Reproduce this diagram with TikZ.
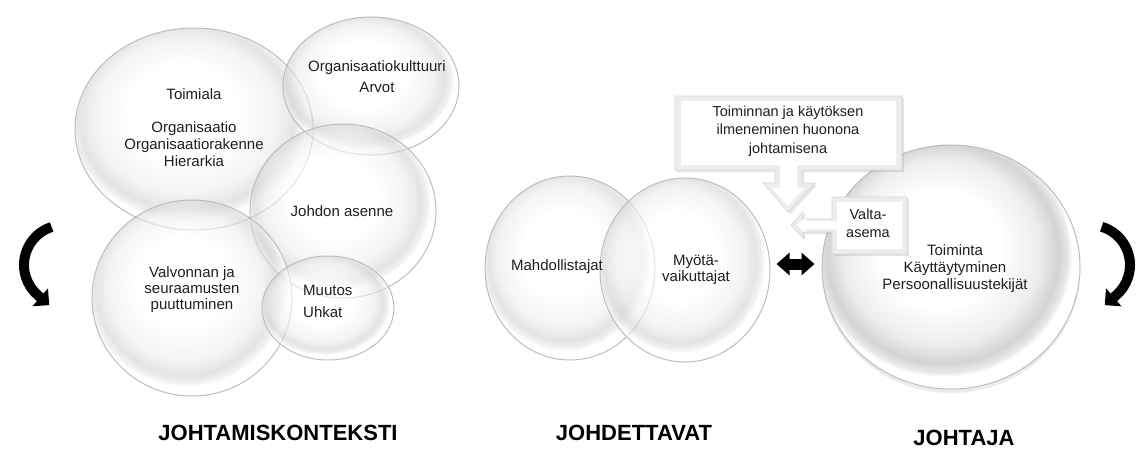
\documentclass[tikz,border=0pt]{standalone}
\usepackage{fontspec}
\setmainfont{Liberation Sans}
\usetikzlibrary{arrows.meta,shadows,shapes.geometric}
\pgfdeclareradialshading{bubbleshade}{\pgfpoint{-3bp}{5bp}}{color(0bp)=(white); color(12bp)=(white); color(19bp)=(black!7); color(22.5bp)=(black!17); color(24.2bp)=(black!9); color(25bp)=(white); color(50bp)=(white)}
\definecolor{rim}{gray}{0.74}
\definecolor{ink}{gray}{0.12}
\tikzset{
  bubble/.style={ellipse, draw=rim, line width=1pt, shade, shading=bubbleshade, fill opacity=0.6, inner sep=0pt},
  txt/.style={text=ink, font=\fontsize{15}{17}\selectfont, align=center, inner sep=0pt},
  ctxt/.style={text=ink, font=\fontsize{14.5}{18.5}\selectfont, align=center, inner sep=0pt},
  lbl/.style={text=black, font=\bfseries\fontsize{22}{24}\selectfont, inner sep=0pt},
  callout/.style={fill=black!7, draw=black!16, line width=0.6pt, drop shadow={opacity=0.2, shadow xshift=2pt, shadow yshift=-2pt}},
  calloutface/.style={fill=white},
  turnarrow/.style={line width=10pt, black, -{Triangle[length=12pt,width=23pt]}},
  dblarrow/.style={line width=11pt, black, {Triangle[length=13pt,width=22pt]}-{Triangle[length=13pt,width=22pt]}},
}
\begin{document}
\begin{tikzpicture}[x=1pt,y=-1pt]
\fill[white] (0,0) rectangle (1136,448);
\useasboundingbox (0,0) rectangle (1136,448);

% --- Johtamiskonteksti circles
\node[bubble, minimum width=238pt, minimum height=202pt] (toimiala) at (194,129) {};
\node[bubble, minimum width=176pt, minimum height=138pt] (kulttuuri) at (371,86) {};
\node[bubble, minimum width=186pt, minimum height=174pt] (asenne) at (343,211) {};
\node[bubble, minimum width=200pt, minimum height=196pt] (valvonta) at (192,298) {};
\node[bubble, minimum width=132pt, minimum height=104pt] (muutos) at (328,308) {};

% --- Johdettavat circles
\node[bubble, minimum width=170pt, minimum height=184pt] (mahd) at (570,268) {};
\node[bubble, minimum width=170pt, minimum height=184pt] (myota) at (685,270) {};

% --- Johtaja circle
\node[bubble, fill opacity=1, minimum width=258pt, minimum height=244pt,
      drop shadow={opacity=0.15, shadow xshift=0pt, shadow yshift=-4pt}] (johtaja) at (951,267) {};

% --- texts in circles
\node[txt] (ttoimiala) at (194,94) {Toimiala};
\node[txt] (torg) at (194,144) {Organisaatio\\Organisaatiorakenne\\Hierarkia};
\node[txt, font=\fontsize{15}{21}\selectfont] (tkult) at (377,77) {Organisaatiokulttuuri\\Arvot};
\node[txt] (tasenne) at (342,211) {Johdon asenne};
\node[txt, font=\fontsize{15}{16}\selectfont] (tvalv) at (192,290) {Valvonnan ja\\seuraamusten\\puuttuminen};
\node[txt, font=\fontsize{15}{22}\selectfont, align=left, anchor=west] (tmuutos) at (303,301) {Muutos\\Uhkat};
\node[txt] (tmahd) at (557,267) {Mahdollistajat};
\node[txt, font=\fontsize{15}{16}\selectfont] (tmyota) at (696,270) {Myötä-\\vaikuttajat};
\node[txt, font=\fontsize{15}{17}\selectfont] (tjohtaja) at (955,269) {Toiminta\\Käyttäytyminen\\Persoonallisuustekijät};

% --- callout with down arrow
\draw[callout] (675,96) -- (902,96) -- (902,170) -- (802,170) -- (802,183) -- (815,183)
  -- (788,212) -- (763,183) -- (775,183) -- (775,170) -- (675,170) -- cycle;
\fill[calloutface] (681,101) -- (896,101) -- (896,165) -- (797,165) -- (797,188) -- (804,188)
  -- (788,206) -- (772,188) -- (780,188) -- (780,165) -- (681,165) -- cycle;
\node[ctxt] (tcall) at (788,131) {Toiminnan ja käytöksen\\ilmeneminen huonona\\johtamisena};

% --- callout with left arrow
\draw[callout] (832,197) -- (907,197) -- (907,254) -- (832,254) -- (832,232) -- (803,232)
  -- (803,238) -- (791,225) -- (803,212) -- (803,219) -- (832,219) -- cycle;
\fill[calloutface] (837,202) -- (902,202) -- (902,249) -- (837,249) -- (837,229) -- (806,229)
  -- (806,232) -- (796,225) -- (806,218) -- (806,221) -- (837,221) -- cycle;
\node[ctxt, font=\fontsize{14.5}{18}\selectfont] (tvalta) at (868,223) {Valta-\\asema};

% --- double arrow between Johdettavat and Johtaja
\coordinate (da) at ([yshift=6pt]myota.east);
\draw[dblarrow, shorten <=6pt, shorten >=7pt] (da) -- (da -| johtaja.west);

% --- turning arrows
\draw[turnarrow] (64,265) ++(252:40) arc[start angle=252, end angle=130, radius=40] -- ++(11,9.5);
\draw[turnarrow] (1090,265) ++(-73:40) arc[start angle=-73, end angle=50, radius=40] -- ++(-11,9.5);

% --- labels
\node[lbl] (l1) at (278,433) {JOHTAMISKONTEKSTI};
\node[lbl] (l2) at (634,433) {JOHDETTAVAT};
\node[lbl] (l3) at (964,438) {JOHTAJA};
\end{tikzpicture}
\end{document}
